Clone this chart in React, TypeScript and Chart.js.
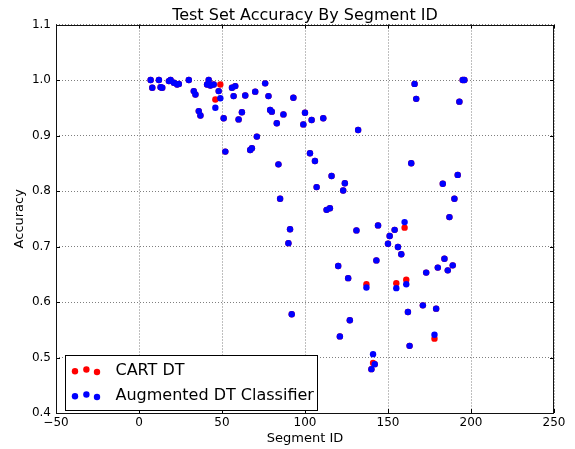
import React, { useEffect, useRef } from 'react';
import { Chart, registerables } from 'chart.js';

Chart.register(...registerables);

const titleText = 'Test Set Accuracy By Segment ID';
const xAxisTitle = 'Segment ID';
const yAxisTitle = 'Accuracy';
const seriesLabels = ['CART DT', 'Augmented DT Classifier'];
const seriesColors = ['#ff0000', '#0000ff'];

const xTicks = [-50, 0, 50, 100, 150, 200, 250];
const yTicks = [0.4, 0.5, 0.6, 0.7, 0.8, 0.9, 1.0, 1.1];

const segmentIds = [
  7, 8, 12, 13, 14, 18, 19, 21, 23, 24,
  30, 33, 34, 36, 37, 41, 42, 43, 45, 46,
  48, 49, 51, 52, 56, 57, 58, 60, 62, 64,
  67, 68, 70, 71, 76, 78, 79, 80, 83, 84,
  85, 87, 90, 91, 92, 93, 99, 100, 103, 104,
  106, 107, 111, 113, 115, 116, 120, 121, 123, 124,
  126, 127, 131, 132, 137, 140, 141, 142, 143, 144,
  150, 151, 154, 155, 156, 158, 160, 161, 162, 163,
  164, 166, 167, 171, 173, 178, 179, 180, 183, 184,
  186, 187, 189, 190, 192, 193, 195, 196,
];

const augmentedAcc = [
  1.0, 0.986, 1.0, 0.987, 0.986, 0.998, 1.0, 0.995, 0.992, 0.993,
  1.0, 0.98, 0.974, 0.944, 0.936, 0.992, 1.0, 0.99, 0.992, 0.95,
  0.98, 0.967, 0.931, 0.871, 0.986, 0.971, 0.989, 0.929, 0.942, 0.972,
  0.874, 0.877, 0.979, 0.898, 0.994, 0.971, 0.946, 0.943, 0.922, 0.848,
  0.786, 0.938, 0.706, 0.731, 0.578, 0.968, 0.92, 0.941, 0.868, 0.928,
  0.854, 0.807, 0.931, 0.766, 0.769, 0.827, 0.665, 0.538, 0.801, 0.814,
  0.643, 0.567, 0.729, 0.91, 0.626, 0.479, 0.506, 0.488, 0.675, 0.738,
  0.705, 0.719, 0.73, 0.625, 0.699, 0.686, 0.744, 0.632, 0.582, 0.521,
  0.85, 0.993, 0.966, 0.594, 0.653, 0.541, 0.588, 0.662, 0.813, 0.678,
  0.657, 0.753, 0.666, 0.786, 0.829, 0.961, 1.0, 1.0,
];

const cartAcc = [
  1.0, 0.986, 1.0, 0.987, 0.986, 0.998, 1.0, 0.995, 0.992, 0.993,
  1.0, 0.98, 0.974, 0.944, 0.936, 0.992, 1.0, 0.99, 0.992, 0.965,
  0.98, 0.992, 0.931, 0.871, 0.986, 0.971, 0.989, 0.929, 0.942, 0.972,
  0.874, 0.877, 0.979, 0.898, 0.994, 0.971, 0.946, 0.943, 0.922, 0.848,
  0.786, 0.938, 0.706, 0.731, 0.578, 0.968, 0.92, 0.941, 0.868, 0.928,
  0.854, 0.807, 0.931, 0.766, 0.769, 0.827, 0.665, 0.538, 0.801, 0.814,
  0.643, 0.567, 0.729, 0.91, 0.632, 0.479, 0.49, 0.488, 0.675, 0.738,
  0.705, 0.719, 0.73, 0.634, 0.699, 0.686, 0.734, 0.64, 0.582, 0.521,
  0.85, 0.993, 0.966, 0.594, 0.653, 0.534, 0.588, 0.662, 0.813, 0.678,
  0.657, 0.753, 0.666, 0.786, 0.829, 0.961, 1.0, 1.0,
];

const FONT = '"DejaVu Sans", sans-serif';

const decorPlugin = {
  id: 'decor',
  afterDraw(chart: any) {
    const { ctx, chartArea } = chart;
    const { left, right, top, bottom } = chartArea;
    const xs = chart.scales.x;
    const ys = chart.scales.y;
    ctx.save();
    // inward tick marks on all four sides
    ctx.strokeStyle = '#000';
    ctx.lineWidth = 1;
    ctx.beginPath();
    const tl = 4;
    for (const t of xTicks) {
      const px = Math.round(xs.getPixelForValue(t)) + 0.5;
      ctx.moveTo(px, bottom);
      ctx.lineTo(px, bottom - tl);
      ctx.moveTo(px, top);
      ctx.lineTo(px, top + tl);
    }
    for (const t of yTicks) {
      const py = Math.round(ys.getPixelForValue(t)) + 0.5;
      ctx.moveTo(left, py);
      ctx.lineTo(left + tl, py);
      ctx.moveTo(right, py);
      ctx.lineTo(right - tl, py);
    }
    ctx.stroke();
    // frame
    ctx.strokeStyle = '#111';
    ctx.strokeRect(Math.round(left) + 0.5, Math.round(top) + 0.5, Math.round(right - left) - 1, Math.round(bottom - top) - 1);

    // title
    ctx.fillStyle = '#000';
    ctx.font = `16px ${FONT}`;
    ctx.textAlign = 'center';
    ctx.textBaseline = 'alphabetic';
    ctx.fillText(titleText, (left + right) / 2, top - 4.5);

    // legend
    const bx = left + 9.5;
    const by = bottom - 57.5;
    const bw = 252;
    const bh = 55;
    ctx.fillStyle = '#fff';
    ctx.fillRect(bx, by, bw, bh);
    ctx.strokeStyle = '#000';
    ctx.strokeRect(bx, by, bw, bh);
    const dotDx = [0, 11.4, 22];
    const dotDy = [0.8, -1, 1.5];
    const rowY = [by + 14, by + 39];
    for (let r = 0; r < 2; r++) {
      ctx.fillStyle = seriesColors[r];
      for (let k = 0; k < 3; k++) {
        ctx.beginPath();
        ctx.arc(bx + 9.5 + dotDx[k], rowY[r] + 1 + dotDy[k], 3.2, 0, Math.PI * 2);
        ctx.fill();
      }
      ctx.fillStyle = '#000';
      ctx.font = `16px ${FONT}`;
      ctx.textAlign = 'left';
      ctx.textBaseline = 'alphabetic';
      ctx.fillText(seriesLabels[r], bx + 50, rowY[r] + 5.5);
    }
    ctx.restore();
  },
};

export default function App() {
  const canvasRef = useRef<HTMLCanvasElement | null>(null);

  useEffect(() => {
    document.body.style.margin = '0';
    const canvas = canvasRef.current;
    if (!canvas) return;
    Chart.defaults.font.family = FONT;
    Chart.defaults.color = '#000';

    const cartPoints = segmentIds.map((id, i) => ({ x: id, y: cartAcc[i] }));
    const augPoints = segmentIds.map((id, i) => ({ x: id, y: augmentedAcc[i] }));

    const gridCommon = {
      color: 'rgba(0,0,0,0.5)',
      lineWidth: 1,
      drawTicks: false,
    };

    const chart = new Chart(canvas, {
      type: 'scatter',
      data: {
        datasets: [
          {
            label: seriesLabels[0],
            data: cartPoints,
            backgroundColor: seriesColors[0],
            borderWidth: 0,
            pointRadius: 3.2,
            order: 1,
          },
          {
            label: seriesLabels[1],
            data: augPoints,
            backgroundColor: seriesColors[1],
            borderWidth: 0,
            pointRadius: 3.2,
            order: 0,
          },
        ],
      },
      options: {
        animation: false,
        responsive: true,
        maintainAspectRatio: false,
        events: [],
        layout: { padding: { left: 0, right: 21, top: 24.5, bottom: 0 } },
        plugins: {
          legend: { display: false },
          title: { display: false },
          tooltip: { enabled: false },
        },
        scales: {
          x: {
            type: 'linear',
            min: -50,
            max: 250,
            afterBuildTicks: (scale: any) => {
              scale.ticks = xTicks.map((v) => ({ value: v }));
            },
            afterFit: (scale: any) => {
              scale.height = 36;
            },
            ticks: {
              font: { size: 12 },
              padding: 3,
              maxRotation: 0,
              callback: (v: any) => (Number(v) < 0 ? '\u2212' + Math.abs(Number(v)) : String(v)),
            },
            grid: gridCommon,
            border: { display: false, dash: [1, 2] },
            title: {
              display: true,
              text: xAxisTitle,
              font: { size: 13 },
              padding: { top: 0, bottom: 2.2 },
            },
          },
          y: {
            type: 'linear',
            min: 0.4,
            max: 1.1,
            afterBuildTicks: (scale: any) => {
              scale.ticks = yTicks.map((v) => ({ value: v }));
            },
            afterFit: (scale: any) => {
              scale.width = 56;
            },
            ticks: {
              font: { size: 12 },
              padding: 5,
              callback: (v: any) => Number(v).toFixed(1),
            },
            grid: gridCommon,
            border: { display: false, dash: [1, 2] },
            title: {
              display: true,
              text: yAxisTitle,
              font: { size: 13 },
              padding: { top: 12.2, bottom: 0 },
            },
          },
        },
      },
      plugins: [decorPlugin],
    });

    return () => {
      chart.destroy();
    };
  }, []);

  return (
    <div style={{ position: 'fixed', left: 0, top: 0, width: 575, height: 449, background: '#fff' }}>
      <canvas ref={canvasRef} width={575} height={449} />
    </div>
  );
}
